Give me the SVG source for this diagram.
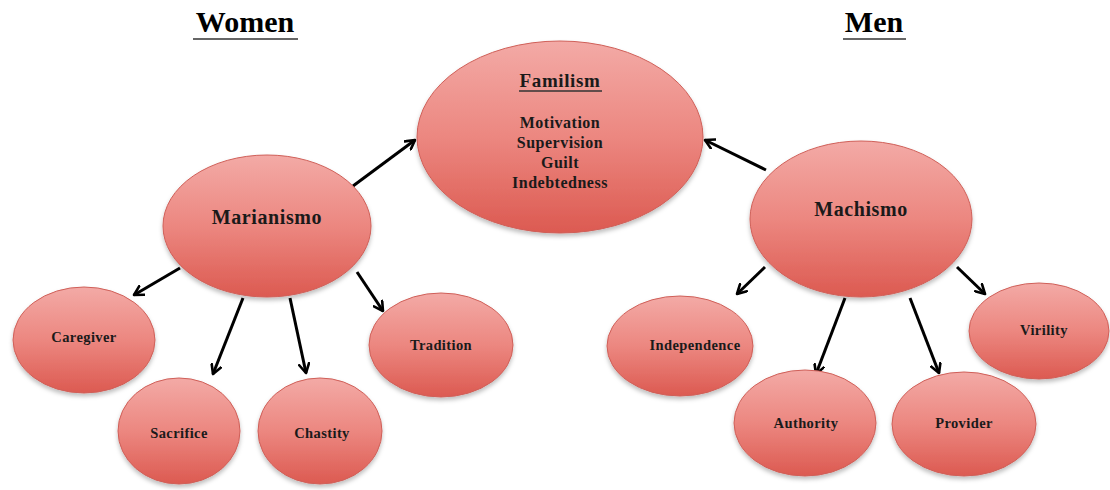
<svg xmlns="http://www.w3.org/2000/svg" width="1110" height="490" viewBox="0 0 1110 490">
<defs>
<linearGradient id="g" x1="0" y1="0" x2="0" y2="1">
<stop offset="0" stop-color="#f3aaa6"/>
<stop offset="0.5" stop-color="#ec8780"/>
<stop offset="1" stop-color="#dc5a51"/>
</linearGradient>
<filter id="sh" x="-10%" y="-10%" width="120%" height="125%">
<feDropShadow dx="0" dy="3" stdDeviation="2" flood-color="#000" flood-opacity="0.25"/>
</filter>
<marker id="ah" viewBox="0 0 12 12" refX="10" refY="6" markerWidth="12" markerHeight="12" markerUnits="userSpaceOnUse" orient="auto">
<path d="M1,1 L10,6 L1,11" fill="none" stroke="#000" stroke-width="2.6" stroke-linecap="round" stroke-linejoin="round"/>
</marker>
</defs>
<style>
.n{fill:url(#g);stroke:#cf5f58;stroke-width:1;filter:url(#sh)}
.t{font-family:"Liberation Serif","Times New Roman",serif;font-weight:bold;fill:#1a1a1a;text-anchor:middle}
.h{font-size:30px;fill:#000}
.big{font-size:20px;letter-spacing:0.6px}
.fam{font-size:19px;letter-spacing:0.6px}
.mid{font-size:16px;letter-spacing:0.5px}
.sm{font-size:14.5px;letter-spacing:0.4px}
.c{stroke:#000;stroke-width:3;fill:none;marker-end:url(#ah)}
.u{stroke:#333;stroke-width:1.5}
</style>
<g id="title-women"><text class="t h" x="245" y="32">Women</text><line class="u" x1="193" y1="39" x2="298" y2="39"/></g>
<g id="title-men"><text class="t h" x="874" y="32">Men</text><line class="u" x1="843" y1="39" x2="906" y2="39"/></g>
<g id="connectors">
<line class="c" x1="353" y1="186" x2="415" y2="140"/>
<line class="c" x1="766" y1="170" x2="705" y2="140"/>
<line class="c" x1="180" y1="268" x2="134" y2="295"/>
<line class="c" x1="243" y1="298" x2="213" y2="374"/>
<line class="c" x1="290" y1="298" x2="306" y2="373"/>
<line class="c" x1="357" y1="272" x2="383" y2="311"/>
<line class="c" x1="765" y1="267" x2="737" y2="294"/>
<line class="c" x1="845" y1="298" x2="816" y2="374"/>
<line class="c" x1="910" y1="298" x2="939" y2="373"/>
<line class="c" x1="957" y1="267" x2="985" y2="294"/>
</g>
<g id="familism"><ellipse class="n" cx="560" cy="137" rx="143" ry="96"/>
<text class="t fam" x="560" y="87">Familism</text><line class="u" x1="519" y1="91" x2="602" y2="91" stroke="#222"/>
<text class="t mid" x="560" y="128">Motivation</text>
<text class="t mid" x="560" y="148">Supervision</text>
<text class="t mid" x="560" y="168">Guilt</text>
<text class="t mid" x="560" y="188">Indebtedness</text></g>
<g id="marianismo"><ellipse class="n" cx="267" cy="226" rx="104" ry="71"/><text class="t big" x="267" y="224">Marianismo</text></g>
<g id="machismo"><ellipse class="n" cx="861" cy="219" rx="111" ry="78"/><text class="t big" x="861" y="216">Machismo</text></g>
<g id="caregiver"><ellipse class="n" cx="84" cy="340" rx="71" ry="53"/><text class="t sm" x="84" y="342">Caregiver</text></g>
<g id="sacrifice"><ellipse class="n" cx="179" cy="431" rx="61" ry="53"/><text class="t sm" x="179" y="438">Sacrifice</text></g>
<g id="chastity"><ellipse class="n" cx="320" cy="431" rx="62" ry="53"/><text class="t sm" x="322" y="438">Chastity</text></g>
<g id="tradition"><ellipse class="n" cx="441" cy="345" rx="72" ry="52"/><text class="t sm" x="441" y="350">Tradition</text></g>
<g id="independence"><ellipse class="n" cx="680" cy="346" rx="73" ry="50"/><text class="t sm" x="695" y="350">Independence</text></g>
<g id="authority"><ellipse class="n" cx="805" cy="423" rx="71" ry="53"/><text class="t sm" x="806" y="428">Authority</text></g>
<g id="provider"><ellipse class="n" cx="964" cy="424" rx="72" ry="52"/><text class="t sm" x="964" y="428">Provider</text></g>
<g id="virility"><ellipse class="n" cx="1039" cy="331" rx="70" ry="48"/><text class="t sm" x="1044" y="335">Virility</text></g>
</svg>
